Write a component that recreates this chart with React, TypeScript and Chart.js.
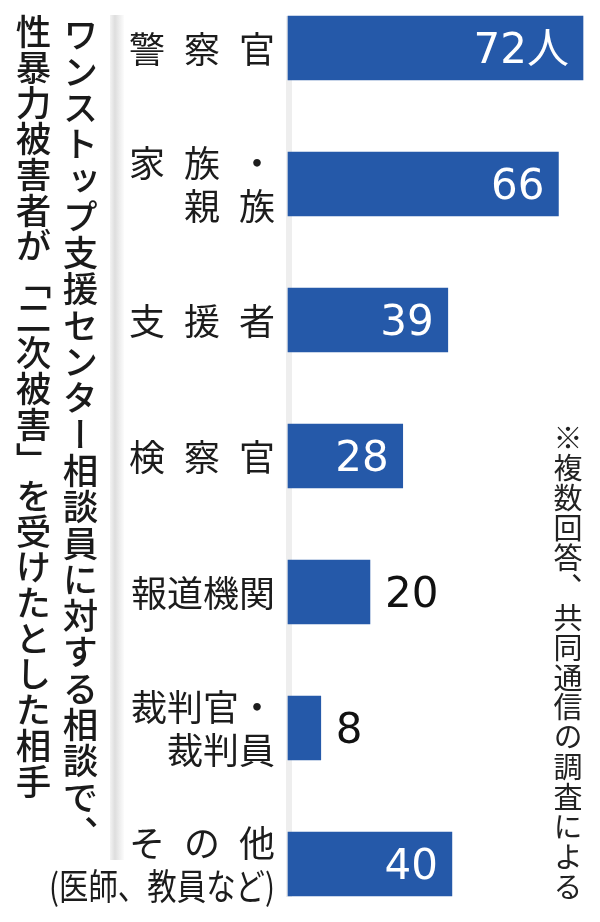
import React, { useEffect, useRef } from "react";
import { Chart, registerables } from "chart.js";

Chart.register(...registerables);

const categories = [
  "警察官",
  "家族・親族",
  "支援者",
  "検察官",
  "報道機関",
  "裁判官・裁判員",
  "その他(医師、教員など)",
];
const tickLabels = [
  ["警 察 官"],
  ["家 族 ・", "親 族"],
  ["支 援 者"],
  ["検 察 官"],
  ["報道機関"],
  ["裁判官・", "裁判員"],
  ["そ の 他", "(医師、教員など)"],
];
const values = [72, 66, 39, 28, 20, 8, 40];
const valueLabels = ["72人", "66", "39", "28", "20", "8", "40"];
const titleLines = [
  "ワンストップ支援センター相談員に対する相談で、",
  "性暴力被害者が「二次被害」を受けたとした相手",
];
const noteText = "※複数回答、共同通信の調査による";

const BAR_COLOR = "#2559a9";

function drawSpaced(ctx: CanvasRenderingContext2D, line: string, right: number, y: number, gap: number, maxW: number) {
  const tokens = line.split(" ");
  const widths = tokens.map((t) => ctx.measureText(t).width);
  const total = widths.reduce((a, b) => a + b, 0) + gap * (tokens.length - 1);
  const scale = total > maxW ? maxW / total : 1;
  let x = right;
  ctx.textAlign = "right";
  for (let k = tokens.length - 1; k >= 0; k--) {
    ctx.fillText(tokens[k], x, y, widths[k] * scale);
    x -= (widths[k] + gap) * scale;
  }
}

const labelPlugin = {
  id: "customLabels",
  beforeDatasetsDraw(chart: any) {
    const ctx: CanvasRenderingContext2D = chart.ctx;
    ctx.save();
    const g = ctx.createLinearGradient(110, 0, 124, 0);
    g.addColorStop(0, "#f3f3f3");
    g.addColorStop(0.35, "#dedede");
    g.addColorStop(1, "#fcfcfc");
    ctx.fillStyle = g;
    ctx.fillRect(110, 15, 14, 845);
    ctx.fillStyle = "#eeeeee";
    ctx.fillRect(286, 16, 6, 881);
    ctx.restore();
  },
  afterDatasetsDraw(chart: any) {
    const ctx: CanvasRenderingContext2D = chart.ctx;
    const yScale = chart.scales.y;
    const meta = chart.getDatasetMeta(0);
    const area = chart.chartArea;
    ctx.save();
    ctx.font = '36px "Noto Sans CJK JP"';
    ctx.fillStyle = "#1c1c1c";
    ctx.textBaseline = "middle";
    const right = area.left - 13;
    tickLabels.forEach((lines, i) => {
      const cy = yScale.getPixelForValue(i);
      const lh = 43;
      const startY = cy + 1 - ((lines.length - 1) * lh) / 2;
      lines.forEach((line, j) => {
        drawSpaced(ctx, line, right, startY + j * lh, 19, 226);
      });
    });
    ctx.font = '42px "DejaVu Sans", "Noto Sans CJK JP"';
    ctx.textBaseline = "alphabetic";
    meta.data.forEach((bar: any, i: number) => {
      const v = values[i];
      const by = bar.y + 15;
      if (v >= 25) {
        ctx.fillStyle = "#ffffff";
        ctx.textAlign = "right";
        ctx.fillText(valueLabels[i], bar.x - 14, by);
      } else {
        ctx.fillStyle = "#111111";
        ctx.textAlign = "left";
        ctx.fillText(valueLabels[i], bar.x + 15, by);
      }
    });
    ctx.restore();
  },
};

function VerticalLine(props: {
  text: string;
  left: number;
  top: number;
  pitch: number;
  width: number;
  fontSize: number;
  weight: number;
  color: string;
}) {
  const { text, left, top, pitch, width, fontSize, weight, color } = props;
  return (
    <div
      style={{
        position: "absolute",
        left,
        top,
        width,
        writingMode: "vertical-rl",
        fontFamily: '"Noto Sans CJK JP"',
        fontSize,
        fontWeight: weight,
        color,
        lineHeight: width + "px",
        whiteSpace: "nowrap",
        textSpacingTrim: "space-all",
      } as any}
    >
      {Array.from(text).map((ch, i) => (
        <span
          key={i}
          style={{
            display: "inline-block",
            height: pitch,
            width,
            textAlign: "center",
            overflow: "visible",
          }}
        >
          {ch}
        </span>
      ))}
    </div>
  );
}

export default function App() {
  const canvasRef = useRef<HTMLCanvasElement | null>(null);

  useEffect(() => {
    if (!canvasRef.current) return;
    const chart = new Chart(canvasRef.current, {
      type: "bar",
      data: {
        labels: categories,
        datasets: [
          {
            data: values,
            backgroundColor: BAR_COLOR,
            borderWidth: 0,
            barThickness: 64,
            clip: false as any,
          },
        ],
      },
      options: {
        indexAxis: "y",
        responsive: false,
        animation: false,
        layout: { padding: { left: 288, right: 17, top: 48, bottom: 58 } },
        scales: {
          x: { display: false, min: 0, max: 72, grid: { display: false } },
          y: { display: false, offset: false, grid: { display: false } },
        },
        plugins: {
          legend: { display: false },
          tooltip: { enabled: false },
          title: { display: false },
        },
      },
      plugins: [labelPlugin],
    });
    return () => chart.destroy();
  }, []);

  return (
    <div style={{ position: "absolute", left: 0, top: 0, width: 600, height: 922, background: "#ffffff", overflow: "hidden" }}>
      <canvas ref={canvasRef} width={600} height={922} style={{ position: "absolute", left: 0, top: 0, width: 600, height: 922 }} />
      <VerticalLine text={titleLines[0]} left={57} top={17} pitch={36.3} width={46} fontSize={35.5} weight={500} color="#1a1a1a" />
      <VerticalLine text={titleLines[1]} left={10} top={14} pitch={35.7} width={46} fontSize={35.5} weight={500} color="#1a1a1a" />
      <VerticalLine text={noteText} left={553} top={423} pitch={29.9} width={30} fontSize={29} weight={400} color="#222222" />
    </div>
  );
}
